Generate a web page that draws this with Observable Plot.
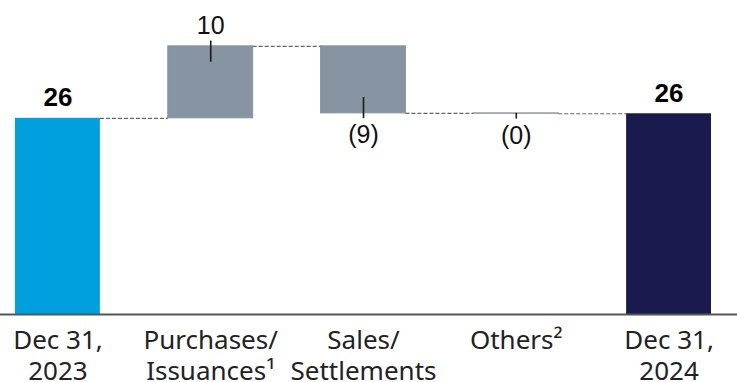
<!DOCTYPE html>
<html>
<head>
<meta charset="utf-8">
<script src="https://cdn.jsdelivr.net/npm/d3@7"></script>
<script src="https://cdn.jsdelivr.net/npm/@observablehq/plot@0.6"></script>
<style>
  html, body { margin: 0; padding: 0; background: #fff; }
  #chart svg { display: block; overflow: visible; }
</style>
</head>
<body>
<div id="chart"></div>
<script>
// ---- data ----
const categories = ["Dec 31,\n2023", "Purchases/\nIssuances\u00B9", "Sales/\nSettlements", "Others\u00B2", "Dec 31,\n2024"];
const values = [25.9, 9.5, -8.85, -0.05, 26.5];
const kinds = ["total", "delta", "delta", "delta", "total"];
const valueLabels = ["26", "10", "(9)", "(0)", "26"];
const barColors = ["#00A0DF", "#8794A1", "#8794A1", "#8794A1", "#1B1A4F"];

// ---- build table ----
let running = 0;
const rows = categories.map((c, i) => {
  let y1, y2;
  if (kinds[i] === "total") { y1 = 0; y2 = values[i]; running = values[i]; }
  else { y1 = running; y2 = running + values[i]; running = y2; }
  return {i, cat: c, kind: kinds[i], value: values[i], y1, y2,
    top: Math.max(y1, y2), bottom: Math.min(y1, y2),
    label: valueLabels[i], color: barColors[i]};
});

const hw = 0.2778; // half bar width in band units
const connectors = rows.slice(0, -1).map((d, k) => {
  const next = rows[k + 1];
  return {x1: d.i + hw, x2: next.i - hw, y: d.y2};
});

const outward = 0.7, inwardMax = 2.1;
const leaders = rows.filter(d => d.kind === "delta").map(d => {
  const inward = Math.min(Math.abs(d.value), inwardMax);
  if (d.value >= 0) return {i: d.i, y1: d.top + outward, y2: d.top - inward};
  return {i: d.i, y1: d.bottom + inward, y2: d.bottom - outward};
});

const totals = rows.filter(d => d.kind === "total");
const ups = rows.filter(d => d.kind === "delta" && d.value > 0);
const downs = rows.filter(d => d.kind === "delta" && d.value <= 0);

const chart = Plot.plot({
  width: 737,
  height: 382,
  marginLeft: 15,
  marginRight: 26,
  marginTop: 11,
  marginBottom: 68,
  x: {domain: [-hw, categories.length - 1 + hw], axis: null},
  y: {domain: [0, 40], axis: null},
  color: {type: "identity"},
  style: {background: "white", fontFamily: "'Noto Sans', sans-serif", overflow: "visible"},
  marks: [
    Plot.rect(rows, {
      x1: d => d.i - hw, x2: d => d.i + hw, y1: "y1", y2: "y2",
      fill: "color",
      stroke: d => d.kind === "delta" ? d.color : "none",
      strokeWidth: 1
    }),
    Plot.ruleY(connectors, {x1: "x1", x2: "x2", y: "y", stroke: "#666", strokeWidth: 1.2, strokeDasharray: "4,2"}),
    Plot.ruleX(leaders, {x: "i", y1: "y1", y2: "y2", stroke: "#1a1a1a", strokeWidth: 1.6}),
    Plot.ruleY([0], {insetLeft: -15, insetRight: -26, stroke: "#555", strokeWidth: 2}),
    Plot.text(totals, {
      x: "i", y: "top", text: "label", lineAnchor: "bottom", dy: -12,
      fontFamily: "'Liberation Sans', Arial, sans-serif",
      fontSize: 26, fontWeight: "bold", fill: "#000"
    }),
    Plot.text(ups, {
      x: "i", y: "top", text: "label", lineAnchor: "bottom", dy: -12,
      fontFamily: "'Liberation Sans', Arial, sans-serif",
      fontSize: 25, fill: "#111"
    }),
    Plot.text(downs, {
      x: "i", y: "bottom", text: "label", lineAnchor: "top", dy: 12,
      fontFamily: "'Liberation Sans', Arial, sans-serif",
      fontSize: 25, fill: "#111"
    }),
    Plot.text(rows, {
      x: "i", frameAnchor: "bottom", text: "cat",
      lineAnchor: "top", dy: 13, lineHeight: 1.19,
      fontFamily: "'Noto Sans', sans-serif",
      fontSize: 26, fill: "#222"
    })
  ]
});
document.getElementById("chart").appendChild(chart);
</script>
</body>
</html>
